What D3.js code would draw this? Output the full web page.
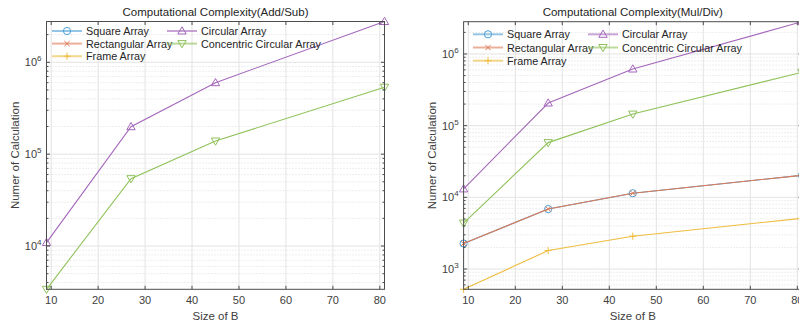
<!DOCTYPE html>
<html>
<head>
<meta charset="utf-8">
<script src="https://cdn.jsdelivr.net/npm/d3@7"></script>
<style>
  html, body { margin: 0; padding: 0; background: #fff; overflow: hidden; }
  svg { display: block; font-family: "Liberation Sans", Arial, sans-serif; }
</style>
</head>
<body>
<svg id="chart" width="799" height="324"></svg>
<script>
// Array sizes (x axis)
const sizes = [9, 27, 45, 81];
const xTicks = [10, 20, 30, 40, 50, 60, 70, 80];

// Number of additions / subtractions
const addSubSquare = [null, null, null, null];
const addSubRect = [null, null, null, null];
const addSubFrame = [null, null, null, null];
const addSubCircular = [1.09e4, 1.99e5, 6.0e5, 2.78e6];
const addSubConcentric = [3.38e3, 5.41e4, 1.39e5, 5.35e5];
const addSubYTicks = [1e4, 1e5, 1e6];

// Number of multiplications / divisions
const mulDivSquare = [2.27e3, 6.86e3, 1.14e4, 2.03e4];
const mulDivRect = [2.27e3, 6.86e3, 1.14e4, 2.03e4];
const mulDivFrame = [521, 1.81e3, 2.87e3, 5.1e3];
const mulDivCircular = [1.31e4, 2.07e5, 6.17e5, 2.82e6];
const mulDivConcentric = [4.37e3, 5.8e4, 1.45e5, 5.55e5];
const mulDivYTicks = [1e3, 1e4, 1e5, 1e6];

const seriesNames = ["Square Array", "Rectangular Array", "Frame Array", "Circular Array", "Concentric Circular Array"];
const seriesColors = ["#4b9fd6", "#e07a55", "#efbd3e", "#a467bb", "#8fc25a"];
const seriesMarkers = ["circle", "x", "plus", "triUp", "triDown"];

const svg = d3.select("#chart");
const supDigits = {"0":"\u2070","1":"\u00b9","2":"\u00b2","3":"\u00b3","4":"\u2074","5":"\u2075","6":"\u2076"};

function marker(g, type, x, y, color, sw) {
  const s = 3.6;
  if (type === "circle") {
    g.append("circle").attr("cx", x).attr("cy", y).attr("r", s)
      .attr("fill", "none").attr("stroke", color).attr("stroke-width", sw);
  } else if (type === "x") {
    g.append("path").attr("d", `M${x-2.6},${y-2.6}L${x+2.6},${y+2.6}M${x-2.6},${y+2.6}L${x+2.6},${y-2.6}`)
      .attr("stroke", color).attr("stroke-width", sw).attr("fill", "none");
  } else if (type === "plus") {
    g.append("path").attr("d", `M${x-s},${y}L${x+s},${y}M${x},${y-s}L${x},${y+s}`)
      .attr("stroke", color).attr("stroke-width", sw).attr("fill", "none");
  } else if (type === "triUp") {
    g.append("path").attr("d", `M${x},${y-s-0.6}L${x+s+0.6},${y+s-0.6}L${x-s-0.6},${y+s-0.6}Z`)
      .attr("stroke", color).attr("stroke-width", sw).attr("fill", "none");
  } else if (type === "triDown") {
    g.append("path").attr("d", `M${x},${y+s+0.6}L${x+s+0.6},${y-s+0.6}L${x-s-0.6},${y-s+0.6}Z`)
      .attr("stroke", color).attr("stroke-width", sw).attr("fill", "none");
  }
}

function drawPanel(cfg) {
  const x = d3.scaleLinear().domain([sizes[0], sizes[sizes.length - 1]]).range([cfg.left, cfg.right]);
  const y = d3.scaleLog().domain(cfg.yDomain).range([cfg.bottom, cfg.top]);
  const g = svg.append("g");

  // minor y grid (dotted) per decade
  const lo = Math.floor(Math.log10(cfg.yDomain[0])), hi = Math.ceil(Math.log10(cfg.yDomain[1]));
  const minor = [];
  for (let e = lo; e < hi; e++) for (let m = 2; m <= 9; m++) {
    const v = m * Math.pow(10, e);
    if (v >= cfg.yDomain[0] && v <= cfg.yDomain[1]) minor.push(v);
  }
  g.selectAll(".mg").data(minor).join("line")
    .attr("x1", cfg.left).attr("x2", cfg.right)
    .attr("y1", d => y(d)).attr("y2", d => y(d))
    .attr("stroke", "#d4d4d4").attr("stroke-width", 0.8).attr("stroke-dasharray", "1,2");

  // major grid
  g.selectAll(".gy").data(cfg.yTicks).join("line")
    .attr("x1", cfg.left).attr("x2", cfg.right)
    .attr("y1", d => y(d)).attr("y2", d => y(d))
    .attr("stroke", "#e3e3e3").attr("stroke-width", 1);
  g.selectAll(".gx").data(xTicks).join("line")
    .attr("x1", d => x(d)).attr("x2", d => x(d))
    .attr("y1", cfg.top).attr("y2", cfg.bottom)
    .attr("stroke", "#e3e3e3").attr("stroke-width", 1);

  // series
  cfg.series.forEach((vals, i) => {
    const pts = sizes.map((s, j) => [s, vals[j]]).filter(p => p[1] != null);
    if (!pts.length) return;
    const line = d3.line().x(d => x(d[0])).y(d => y(d[1]));
    g.append("path").datum(pts).attr("d", line)
      .attr("fill", "none").attr("stroke", seriesColors[i]).attr("stroke-width", 1.1);
    pts.forEach(p => marker(g, seriesMarkers[i], x(p[0]), y(p[1]), seriesColors[i], 1));
  });

  // box axes
  const axc = "#4d4d4d";
  g.append("rect").attr("x", cfg.left).attr("y", cfg.top)
    .attr("width", cfg.right - cfg.left).attr("height", cfg.bottom - cfg.top)
    .attr("fill", "none").attr("stroke", axc).attr("stroke-width", 1);

  // x ticks (inward, top and bottom)
  const tl = 3.5;
  xTicks.forEach(t => {
    g.append("line").attr("x1", x(t)).attr("x2", x(t)).attr("y1", cfg.bottom).attr("y2", cfg.bottom - tl).attr("stroke", axc);
    g.append("line").attr("x1", x(t)).attr("x2", x(t)).attr("y1", cfg.top).attr("y2", cfg.top + tl).attr("stroke", axc);
    g.append("text").attr("x", x(t)).attr("y", cfg.bottom + 15)
      .attr("text-anchor", "middle").attr("font-size", 11).attr("fill", "#404040").text(t);
  });

  // y ticks (major & minor, inward, left and right)
  cfg.yTicks.forEach(t => {
    g.append("line").attr("x1", cfg.left).attr("x2", cfg.left + tl).attr("y1", y(t)).attr("y2", y(t)).attr("stroke", axc);
    g.append("line").attr("x1", cfg.right).attr("x2", cfg.right - tl).attr("y1", y(t)).attr("y2", y(t)).attr("stroke", axc);
    const e = Math.round(Math.log10(t));
    const txt = g.append("text").attr("x", cfg.left - 5).attr("y", y(t) + 4)
      .attr("text-anchor", "end").attr("font-size", 11).attr("fill", "#404040");
    txt.append("tspan").text("10");
    txt.append("tspan").attr("dy", -5).attr("font-size", 8).text(e);
  });
  minor.forEach(t => {
    g.append("line").attr("x1", cfg.left).attr("x2", cfg.left + 2).attr("y1", y(t)).attr("y2", y(t)).attr("stroke", axc);
    g.append("line").attr("x1", cfg.right).attr("x2", cfg.right - 2).attr("y1", y(t)).attr("y2", y(t)).attr("stroke", axc);
  });

  // titles and labels
  const cx = (cfg.left + cfg.right) / 2;
  g.append("text").attr("x", cx).attr("y", 16).attr("text-anchor", "middle")
    .attr("font-size", 11.5).attr("fill", "#262626").text(cfg.title);
  g.append("text").attr("x", cx).attr("y", cfg.bottom + 31).attr("text-anchor", "middle")
    .attr("font-size", 11.5).attr("fill", "#404040").text("Size of B");
  g.append("text").attr("transform", `translate(${cfg.ylabX},${(cfg.top + cfg.bottom) / 2}) rotate(-90)`)
    .attr("text-anchor", "middle").attr("font-size", 11.5).attr("fill", "#404040").text("Numer of Calculation");

  // legend (two columns, no box)
  seriesNames.forEach((name, i) => {
    const col = i < 3 ? 0 : 1, row = i < 3 ? i : i - 3;
    const lx = cfg.legX[col], ly = cfg.legY + row * cfg.legDy;
    const lg = g.append("g");
    lg.append("line").attr("x1", lx).attr("x2", lx + 30).attr("y1", ly).attr("y2", ly)
      .attr("stroke", seriesColors[i]).attr("stroke-width", 2).attr("stroke-opacity", 0.6);
    marker(lg, seriesMarkers[i], lx + 15, ly, seriesColors[i], 1);
    lg.append("text").attr("x", lx + 34).attr("y", ly + 4).attr("font-size", 10.8)
      .attr("fill", "#262626").text(name);
  });
}

drawPanel({
  title: "Computational Complexity(Add/Sub)",
  left: 46.5, right: 384.5, top: 21.5, bottom: 289.3,
  yDomain: [3.38e3, 2.78e6], yTicks: addSubYTicks,
  series: [addSubSquare, addSubRect, addSubFrame, addSubCircular, addSubConcentric],
  ylabX: 19, legX: [52, 167], legY: 31, legDy: 12.6
});

drawPanel({
  title: "Computational Complexity(Mul/Div)",
  left: 463.6, right: 802, top: 21.7, bottom: 289.3,
  yDomain: [521, 2.82e6], yTicks: mulDivYTicks,
  series: [mulDivSquare, mulDivRect, mulDivFrame, mulDivCircular, mulDivConcentric],
  ylabX: 436, legX: [473, 588], legY: 34.3, legDy: 13.2
});
</script>
</body>
</html>
